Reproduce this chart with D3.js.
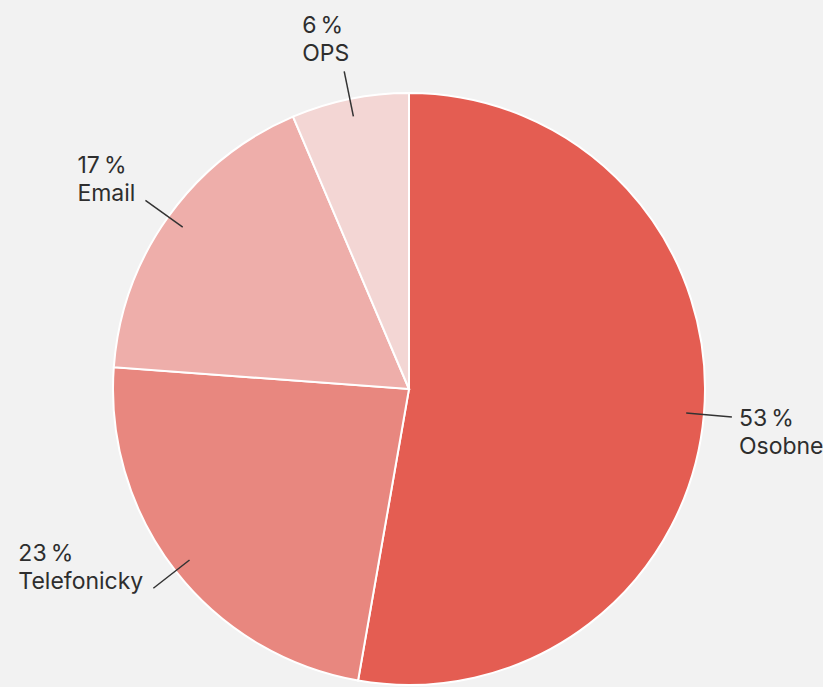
<!DOCTYPE html>
<html>
<head>
<meta charset="utf-8">
<script src="https://cdn.jsdelivr.net/npm/d3@7"></script>
<style>
  html, body { margin: 0; padding: 0; background: #f2f2f2; }
  svg { display: block; }
  .lbl { font-family: Inter, "Noto Sans", sans-serif; font-size: 23px; fill: #2e2e2e; }
</style>
</head>
<body>
<svg width="823" height="687"></svg>
<script>
// shares
const categories = ["Osobne", "Telefonicky", "Email", "OPS"];
const shares = [52.7, 23.4, 17.4, 6.4];
const colors = ["#e45d52", "#e8877f", "#eeaeaa", "#f3d6d4"];

const svg = d3.select("svg");
const cx = 409, cy = 389, radius = 296;

const data = categories.map((c, i) => ({ name: c, value: shares[i], color: colors[i] }));

const pie = d3.pie().sort(null).value(d => d.value);
const arcs = pie(data);

const arc = d3.arc().innerRadius(0).outerRadius(radius);
const innerArc = d3.arc().innerRadius(radius * 0.94).outerRadius(radius * 0.94);
const outerArc = d3.arc().innerRadius(radius * 1.095).outerRadius(radius * 1.095);

const g = svg.append("g").attr("transform", `translate(${cx},${cy})`);

g.selectAll("path.slice")
  .data(arcs)
  .enter().append("path")
  .attr("class", "slice")
  .attr("d", arc)
  .style("fill", d => d.data.color)
  .style("stroke", "#fff")
  .style("stroke-width", 2);

g.selectAll("line.leader")
  .data(arcs)
  .enter().append("line")
  .attr("class", "leader")
  .attr("x1", d => innerArc.centroid(d)[0])
  .attr("y1", d => innerArc.centroid(d)[1])
  .attr("x2", d => outerArc.centroid(d)[0])
  .attr("y2", d => outerArc.centroid(d)[1])
  .style("stroke", "#333")
  .style("stroke-width", 1.5);

const lineH = 28;
let labels = g.selectAll("g.label")
  .data(arcs)
  .enter().append("g")
  .attr("class", "label");

labels.each(function(d) {
  let [x, y] = outerArc.centroid(d);
  let mid = (d.startAngle + d.endAngle) / 2;
  let sel = d3.select(this);
  let t = sel.append("text").attr("class", "lbl");
  t.append("tspan").attr("x", 0).attr("y", 0).text(Math.round(d.data.value) + "\u2009%");
  t.append("tspan").attr("x", 0).attr("y", lineH).text(d.data.name);
  let w = t.node().getBBox().width;
  let tx, ty;
  if (Math.abs(Math.sin(mid)) < 0.5) {
    // near top / bottom: block sits above the end point
    tx = x - w + 5;
    ty = y - 10 - lineH;
  } else if (Math.sin(mid) > 0) {
    // right side: first line next to the end point
    tx = x + 7;
    ty = y + 9;
  } else {
    // left side: second line next to the end point
    tx = x - w - 10;
    ty = y + 1 - lineH;
  }
  sel.attr("transform", `translate(${tx},${ty})`);
});
</script>
</body>
</html>
